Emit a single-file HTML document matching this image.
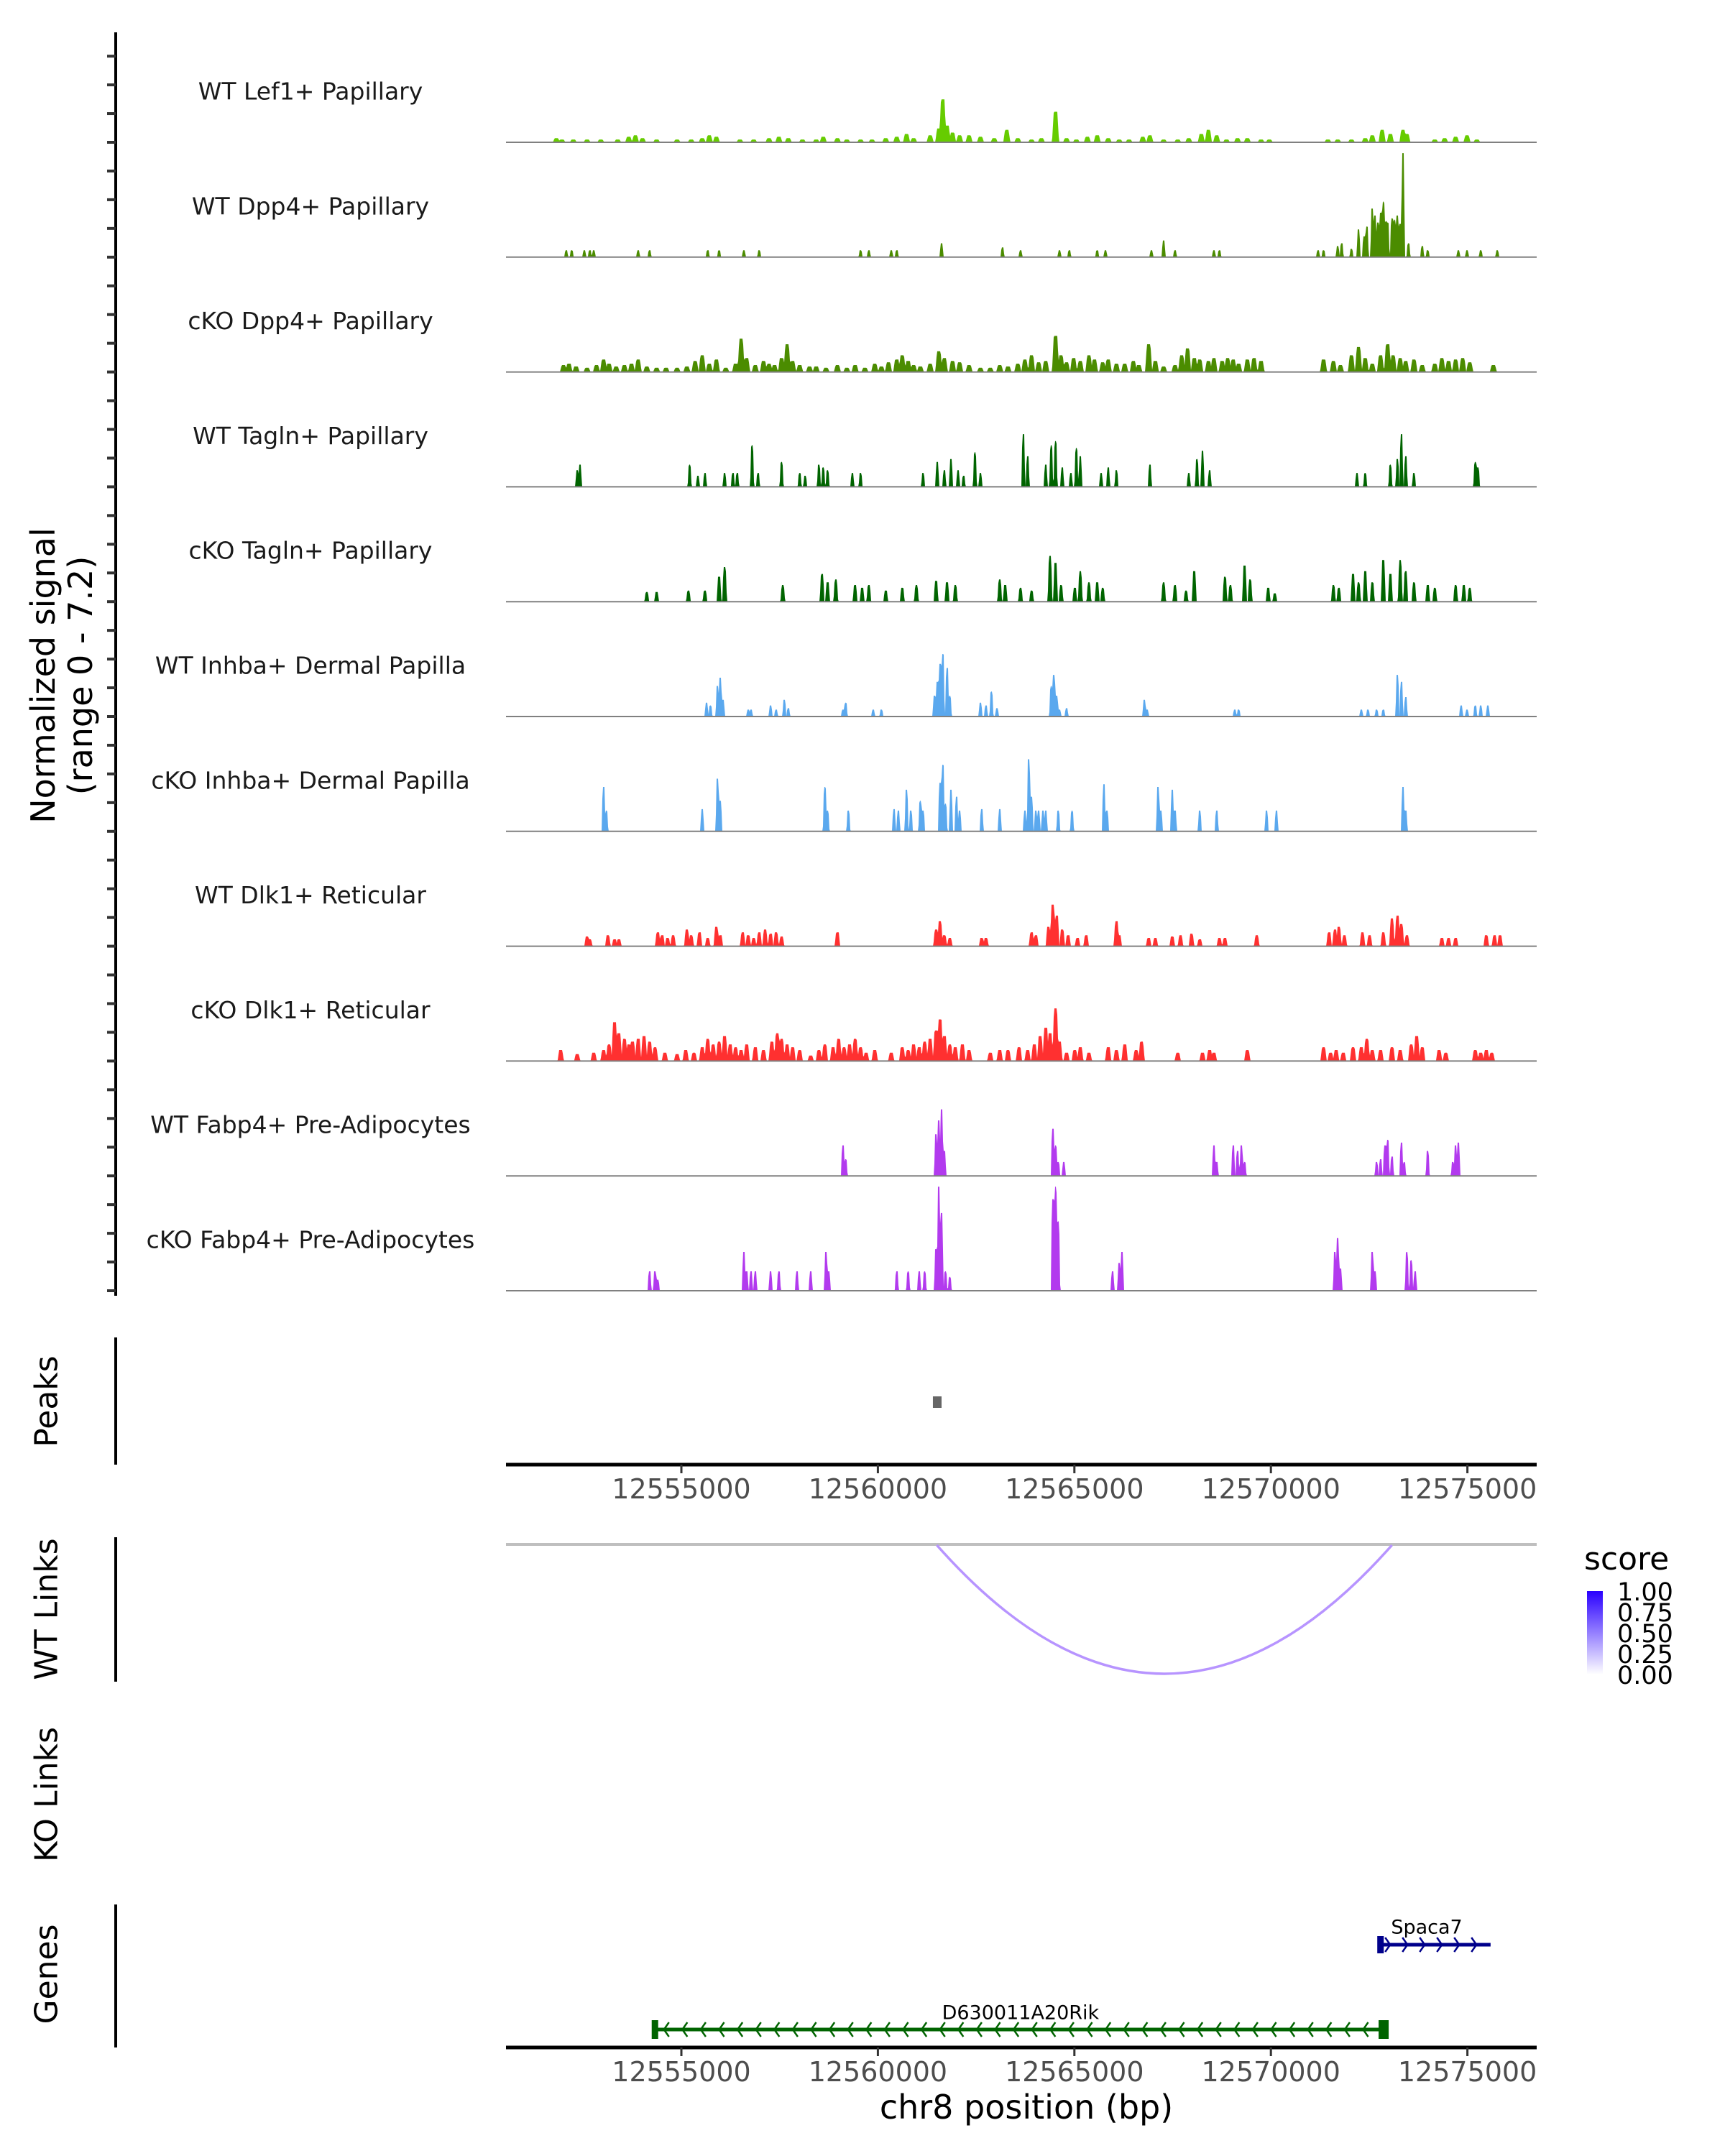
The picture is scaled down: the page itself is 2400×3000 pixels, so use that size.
<!DOCTYPE html>
<html><head><meta charset="utf-8"><style>
html,body{margin:0;padding:0;background:#fff;}
svg{display:block;font-family:"DejaVu Sans","Liberation Sans",sans-serif;}
</style></head><body>
<svg id="chart" width="2400" height="3000" viewBox="0 0 2400 3000" xmlns="http://www.w3.org/2000/svg">
<rect width="2400" height="3000" fill="#fff"/>
<g id="tracks"></g>
<g id="axes"></g>
</svg>
<script>
// region: positions in kb relative to chr8:12,550,000
const REGION_START = 12550000;
const trackNames = ["WT Lef1+ Papillary","WT Dpp4+ Papillary","cKO Dpp4+ Papillary","WT Tagln+ Papillary","cKO Tagln+ Papillary","WT Inhba+ Dermal Papilla","cKO Inhba+ Dermal Papilla","WT Dlk1+ Reticular","cKO Dlk1+ Reticular","WT Fabp4+ Pre-Adipocytes","cKO Fabp4+ Pre-Adipocytes"];
const trackColors = ["#66cc00","#4b8c00","#4b8c00","#006400","#006400","#5aa8ee","#5aa8ee","#ff3030","#ff3030","#b23aee","#b23aee"];
const tickValues = [12555000,12560000,12565000,12570000,12575000];
const tickLabels = ["12555000","12560000","12565000","12570000","12575000"];

const lef1Pos=[1.82,1.96,2.25,2.60,2.95,3.38,3.66,3.83,4.01,4.37,4.89,5.25,5.53,5.71,5.89,6.49,6.84,7.23,7.48,7.72,8.08,8.43,8.61,8.97,9.21,9.56,9.85,10.20,10.48,10.73,10.91,11.33,11.55,11.65,11.76,11.90,12.08,12.32,12.61,12.96,13.28,13.56,13.91,14.16,14.52,14.80,15.05,15.33,15.58,15.86,16.14,16.39,16.74,16.92,17.27,17.63,17.91,18.23,18.41,18.62,18.87,19.15,19.40,19.75,19.96,21.45,21.70,22.05,22.40,22.58,22.83,23.04,23.36,23.46,24.17,24.42,24.70,24.99,25.24];
const lef1Val=[.3,.2,.2,.2,.2,.2,.4,.5,.3,.2,.2,.2,.3,.5,.4,.2,.2,.3,.4,.3,.2,.2,.4,.3,.2,.2,.2,.3,.4,.6,.3,.5,1.0,3.1,1.2,.7,.5,.5,.4,.3,.9,.3,.2,.3,2.2,.3,.2,.4,.5,.3,.2,.2,.4,.5,.2,.2,.3,.6,.9,.5,.2,.3,.3,.2,.2,.2,.2,.2,.3,.5,.9,.6,.9,.6,.2,.3,.4,.5,.2];
const wtDpp4Pos=[2.07,2.21,2.53,2.67,2.77,3.90,4.19,5.67,5.96,6.59,6.98,9.56,9.77,10.34,10.48,11.62,13.17,13.63,14.62,14.87,15.58,15.79,16.96,17.27,17.56,18.55,18.69,21.20,21.34,21.70,21.80,22.05,22.23,22.37,22.44,22.58,22.65,22.72,22.79,22.86,22.93,22.97,23.08,23.15,23.22,23.29,23.36,23.50,23.85,23.99,24.77,24.99,25.34,25.76];
const wtDpp4Val=[.5,.5,.5,.5,.5,.5,.5,.5,.5,.5,.5,.5,.5,.5,.5,1.0,.7,.5,.5,.5,.5,.5,.5,1.2,.5,.5,.5,.5,.5,.8,1.0,.6,2.0,1.5,2.2,3.5,3.0,2.5,3.2,4.0,2.6,2.5,2.8,2.7,3.0,2.4,7.5,1.0,.8,.5,.5,.5,.5,.5];
const koDpp4Pos=[2.00,2.14,2.32,2.60,2.84,3.02,3.16,3.34,3.55,3.73,3.90,4.12,4.37,4.61,4.89,5.14,5.35,5.53,5.71,5.89,6.13,6.38,6.52,6.66,6.88,7.09,7.23,7.37,7.55,7.69,7.83,8.01,8.26,8.43,8.68,8.97,9.21,9.42,9.67,9.92,10.09,10.27,10.48,10.62,10.77,10.91,11.08,11.33,11.55,11.69,11.90,12.08,12.32,12.61,12.86,13.10,13.31,13.56,13.74,13.91,14.09,14.27,14.52,14.66,14.80,14.98,15.15,15.37,15.51,15.72,15.86,16.07,16.28,16.50,16.64,16.89,17.06,17.27,17.56,17.73,17.88,18.05,18.19,18.41,18.55,18.76,18.90,19.04,19.18,19.40,19.57,19.75,21.34,21.59,21.77,22.05,22.23,22.40,22.58,22.79,22.97,23.11,23.29,23.43,23.64,23.85,24.17,24.35,24.52,24.70,24.88,25.06,25.66];
const koDpp4Val=[.5,.6,.4,.3,.5,.9,.6,.4,.5,.6,.9,.4,.3,.3,.3,.4,.8,1.2,.6,.9,.3,.6,2.4,1.0,.5,.8,.6,.5,1.0,2.0,.8,.5,.4,.4,.3,.5,.3,.5,.3,.6,.4,.7,.9,1.2,.8,.5,.4,.6,1.5,1.0,.8,.7,.5,.3,.3,.5,.4,.6,.9,1.2,.7,.8,2.6,1.2,.7,1.0,.8,1.2,.9,.7,.9,.6,.6,.8,.5,2.0,.8,.4,.5,1.2,1.7,1.0,.9,.8,1.0,.8,1.0,.9,.6,.9,1.0,.8,.9,.8,.5,1.2,1.8,1.0,.6,1.2,2.0,1.2,1.0,.8,.9,.5,.6,1.0,.8,.9,1.0,.7,.5];
const wtTaglnPos=[2.35,2.42,5.21,5.42,5.60,6.10,6.31,6.42,6.80,6.95,7.55,8.01,8.15,8.50,8.61,8.72,9.35,9.56,11.15,11.51,11.69,11.86,12.04,12.18,12.47,12.61,13.70,13.81,14.27,14.41,14.52,14.69,14.91,15.05,15.15,15.68,15.86,16.07,16.92,17.91,18.12,18.26,18.44,22.19,22.40,23.04,23.22,23.32,23.43,23.64,25.20,25.27];
const wtTaglnVal=[1.2,1.6,1.6,.8,1.0,1.0,1.0,1.0,3.0,1.0,1.8,1.0,.8,1.6,1.4,1.2,1.0,1.0,1.0,1.8,1.2,2.0,1.2,.8,2.5,1.0,3.8,2.2,1.6,3.0,3.3,1.4,1.0,2.8,2.2,1.0,1.4,1.2,1.6,1.0,2.0,2.6,1.2,1.0,1.0,1.6,2.0,3.8,2.2,1.0,1.8,1.4];
const koTaglnPos=[4.12,4.37,5.18,5.60,5.96,6.10,7.58,8.58,8.72,8.93,9.42,9.60,9.77,10.20,10.62,10.98,11.48,11.76,11.97,13.10,13.24,13.63,13.91,14.38,14.52,14.66,15.01,15.15,15.37,15.58,15.72,17.27,17.56,17.84,18.05,18.83,18.97,19.33,19.47,19.93,20.10,21.59,21.73,22.09,22.23,22.40,22.58,22.86,23.04,23.29,23.43,23.64,23.99,24.17,24.70,24.91,25.06];
const koTaglnVal=[.7,.7,.8,.8,1.8,2.5,1.2,2.0,1.4,1.6,1.2,1.0,1.2,.8,1.0,1.2,1.5,1.4,1.2,1.6,1.2,1.0,.8,3.3,2.8,1.2,1.0,2.2,1.4,1.4,1.0,1.4,1.2,.8,2.2,1.8,1.2,2.6,1.6,1.0,.6,1.2,1.0,2.0,1.4,2.2,1.4,3.0,2.0,3.0,2.2,1.4,1.2,1.0,1.2,1.2,1.0];
const wtInhbaPos=[5.64,5.74,5.92,5.99,6.06,6.70,6.77,7.27,7.41,7.62,7.72,9.11,9.18,9.88,10.09,11.44,11.51,11.58,11.65,11.76,11.83,12.61,12.75,12.89,13.03,14.41,14.48,14.55,14.62,14.80,16.78,16.85,19.08,19.18,22.30,22.47,22.69,22.86,23.22,23.32,23.43,24.84,24.99,25.20,25.34,25.52];
const wtInhbaVal=[1.0,.8,2.2,2.8,1.2,.5,.5,.8,.5,1.2,.6,.5,1.0,.5,.5,1.5,2.5,3.8,4.5,3.5,1.5,1.0,.8,1.8,.6,2.2,3.0,1.5,.5,.6,1.2,.5,.5,.5,.5,.5,.5,.5,3.0,2.5,1.4,.8,.5,.8,.8,.8];
const koInhbaPos=[3.02,3.09,5.53,5.92,5.99,8.65,8.72,9.25,10.41,10.52,10.73,10.84,11.08,11.15,11.58,11.65,11.72,11.86,12.00,12.08,12.64,13.10,13.74,13.84,13.91,14.02,14.09,14.20,14.27,14.59,14.94,15.75,15.83,17.13,17.20,17.49,17.56,18.19,18.62,19.89,20.14,23.36,23.43];
const koInhbaVal=[3.2,1.5,1.6,3.8,2.2,3.2,1.5,1.5,1.6,1.5,3.0,1.5,2.2,1.5,3.5,4.8,2.0,3.0,2.5,1.5,1.6,1.6,1.5,5.2,2.5,1.5,1.5,1.5,1.5,1.5,1.5,3.4,1.5,3.2,1.5,3.0,1.5,1.5,1.5,1.5,1.5,3.2,1.5];
const wtDlk1Pos=[2.60,2.67,3.13,3.30,3.41,4.40,4.51,4.65,4.79,5.14,5.25,5.46,5.67,5.89,5.99,6.56,6.70,6.84,6.98,7.13,7.27,7.41,7.55,8.97,11.48,11.58,11.69,11.83,12.64,12.75,13.91,14.02,14.34,14.45,14.55,14.69,14.84,15.08,15.30,16.07,16.14,16.89,17.06,17.49,17.70,17.98,18.19,18.69,18.83,19.64,21.48,21.63,21.73,21.87,22.33,22.51,22.86,23.08,23.22,23.32,23.46,24.35,24.52,24.70,25.48,25.69,25.83];
const wtDlk1Val=[.7,.5,.8,.5,.5,1.0,.8,.6,.8,1.2,.8,1.0,.6,1.4,.8,1.0,.8,.6,1.0,1.2,.9,1.0,.7,1.0,1.2,1.8,.8,.6,.6,.6,1.0,.8,1.4,3.0,2.2,1.2,.8,.6,.8,1.8,.8,.6,.6,.7,.8,.9,.5,.6,.6,.8,1.0,1.2,1.4,.8,1.0,.8,1.0,2.0,2.2,1.6,.8,.6,.6,.6,.8,.8,.8];
const koDlk1Pos=[1.93,2.35,2.77,3.02,3.16,3.30,3.41,3.55,3.66,3.76,3.90,4.05,4.19,4.33,4.58,4.89,5.11,5.32,5.53,5.67,5.81,5.96,6.10,6.24,6.38,6.52,6.66,6.88,7.09,7.30,7.44,7.55,7.69,7.83,8.01,8.29,8.50,8.65,8.86,9.00,9.14,9.28,9.42,9.56,9.70,9.92,10.34,10.62,10.77,10.91,11.05,11.19,11.33,11.48,11.58,11.69,11.83,11.97,12.15,12.32,12.86,13.10,13.31,13.59,13.81,13.98,14.13,14.27,14.38,14.52,14.62,14.80,15.01,15.15,15.37,15.86,16.07,16.28,16.57,16.71,17.63,18.26,18.44,18.55,19.40,21.34,21.52,21.66,21.84,22.09,22.30,22.44,22.58,22.79,23.08,23.29,23.57,23.71,23.85,24.28,24.45,25.20,25.34,25.48,25.62];
const koDlk1Val=[.8,.5,.6,.8,1.2,2.8,2.0,1.6,1.2,1.4,1.6,1.8,1.4,1.0,.6,.5,.8,.6,1.0,1.6,1.2,1.4,1.8,1.2,1.0,.8,1.2,1.0,.8,1.4,2.0,1.6,1.2,1.0,.8,.4,.8,1.2,1.0,1.6,1.0,1.2,1.6,1.0,.6,.8,.6,1.0,.8,1.2,1.0,1.4,1.6,2.2,3.0,1.8,1.2,1.0,1.2,.8,.6,.8,.8,1.0,.8,1.2,1.8,2.4,2.0,3.8,1.4,.6,.8,1.0,.6,1.0,.8,1.2,.8,1.4,.6,.6,.8,.6,.8,1.0,.6,.8,.6,1.0,1.0,1.6,.8,.8,1.0,.8,1.2,1.8,1.0,.8,.6,.8,.6,.8,.6];
const wtFabp4Pos=[9.11,9.18,11.48,11.55,11.62,11.69,14.45,14.52,14.59,14.73,18.55,18.62,19.04,19.15,19.25,19.33,22.69,22.79,22.90,22.97,23.08,23.32,23.39,23.99,24.63,24.70,24.77];
const wtFabp4Val=[2.2,1.2,3.0,4.0,4.8,1.8,3.4,2.2,1.0,1.0,2.2,1.0,2.2,1.8,2.2,1.0,1.0,1.2,2.2,2.6,1.4,2.4,1.0,1.8,1.0,2.2,2.4];
const koFabp4Pos=[4.19,4.33,4.40,6.59,6.66,6.77,6.88,7.27,7.48,7.94,8.29,8.68,8.75,10.48,10.77,11.05,11.19,11.48,11.55,11.62,11.72,11.83,14.45,14.52,14.59,15.97,16.14,16.21,21.63,21.70,21.77,22.58,22.65,23.46,23.57,23.67];
const koFabp4Val=[1.4,1.4,.8,2.8,1.4,1.4,1.4,1.4,1.4,1.4,1.4,2.8,1.4,1.4,1.4,1.4,1.4,3.0,7.5,5.6,1.4,1.0,6.6,7.5,5.0,1.4,2.0,2.8,2.8,3.8,1.6,2.8,1.4,2.8,2.2,1.4];

const trackPos=[lef1Pos,wtDpp4Pos,koDpp4Pos,wtTaglnPos,koTaglnPos,wtInhbaPos,koInhbaPos,wtDlk1Pos,koDlk1Pos,wtFabp4Pos,koFabp4Pos];
const trackVal=[lef1Val,wtDpp4Val,koDpp4Val,wtTaglnVal,koTaglnVal,wtInhbaVal,koInhbaVal,wtDlk1Val,koDlk1Val,wtFabp4Val,koFabp4Val];
const trackWidth=[0.09,0.05,0.09,0.05,0.06,0.05,0.05,0.07,0.08,0.05,0.05];

const peakStarts=[11.40]; const peakEnds=[11.62];
const linkStarts=[11.50]; const linkEnds=[23.08]; const linkScores=[0.35];
const geneNames=["D630011A20Rik","Spaca7"];
const geneStarts=[4.30,22.78]; const geneEnds=[22.96,25.59]; const geneStrand=[-1,1];

const NS="http://www.w3.org/2000/svg";
const PX_LEFT=704, PX_RIGHT=2138;
function xs(kb){ return 948 + (kb - 5.0) * 54.68; }
function xsBp(bp){ return xs((bp - REGION_START)/1000); }
function kbAt(px){ return 5.0 + (px - 948)/54.68; }
const UNIT=19.3, BASE0=198, STEP=159.8;
function el(tag, attrs, parent){ const e=document.createElementNS(NS,tag); for(const k in attrs) e.setAttribute(k,attrs[k]); parent.appendChild(e); return e; }

const gT=document.getElementById('tracks');
const gA=document.getElementById('axes');

for(let i=0;i<trackNames.length;i++){
  const base=BASE0+i*STEP;
  let d="M"+PX_LEFT+","+base;
  for(let px=PX_LEFT; px<=PX_RIGHT; px+=1){
    const kb=kbAt(px); let v=0;
    const P=trackPos[i], V=trackVal[i], w=trackWidth[i];
    for(let j=0;j<P.length;j++){
      const dd=Math.abs(kb-P[j]);
      if(dd<w){ const f=dd<w*0.5?1:(1-(dd-w*0.5)/(w*0.5)); v=Math.max(v,V[j]*f); }
    }
    d+=" L"+px+","+(base - v*UNIT).toFixed(1);
  }
  d+=" L"+PX_RIGHT+","+base+" Z";
  const p=el('path',{d:d,fill:trackColors[i]},gT);
  
  
  const bl=el('line',{x1:PX_LEFT,x2:PX_RIGHT,y1:base,y2:base,stroke:'#808080','stroke-width':2},gT);
  
  
  const t=el('text',{x:432,y:base-71,'font-size':33,fill:'#1a1a1a','text-anchor':'middle','dominant-baseline':'central'},gT);
  t.textContent=trackNames[i];
  
  
}

const ax=el('line',{x1:161,x2:161,y1:45,y2:1803,stroke:'#000','stroke-width':4},gA);


for(let y=BASE0+10*STEP; y>=60; y-=STEP/4){
  const tk=el('line',{x1:149,x2:161,y1:y,y2:y,stroke:'#333','stroke-width':4},gA);
  
  
}
function vlabel(lines,cx,cy,name,size,gap){
  const t=el('text',{transform:'translate('+cx+','+cy+') rotate(-90)','font-size':size,'text-anchor':'middle',fill:'#000'},gA);
  lines.forEach((s,k)=>{ const ts=el('tspan',{x:0,y:(k-(lines.length-1)/2)*gap+size*0.35},t); ts.textContent=s; });
  
  
}
vlabel(["Normalized signal","(range 0 - 7.2)"],86,940,'y-axis-title',46,52);

const pl=el('line',{x1:161,x2:161,y1:1861,y2:2038,stroke:'#000','stroke-width':4},gA);


vlabel(["Peaks"],64,1950,'peaks-title',44,0);
for(let j=0;j<peakStarts.length;j++){
  const r=el('rect',{x:xs(peakStarts[j]),y:1943,width:xs(peakEnds[j])-xs(peakStarts[j]),height:16,fill:'#666'},gA);
  
  
}
function xAxis(y,name){
  const a=el('line',{x1:PX_LEFT,x2:PX_RIGHT,y1:y,y2:y,stroke:'#000','stroke-width':5},gA);
  
  
  for(let j=0;j<tickValues.length;j++){
    const x=xsBp(tickValues[j]);
    const tk=el('line',{x1:x,x2:x,y1:y,y2:y+12,stroke:'#333','stroke-width':3},gA);
    
    
    const t=el('text',{x:x,y:y+47,'font-size':38,fill:'#4d4d4d','text-anchor':'middle'},gA);
    t.textContent=tickLabels[j];
    
    
  }
}
xAxis(2038,'peaks-x-axis');

const wl=el('line',{x1:161,x2:161,y1:2139,y2:2340,stroke:'#000','stroke-width':4},gA);


vlabel(["WT Links"],64,2239,'wt-links-title',44,0);
const lb=el('line',{x1:PX_LEFT,x2:PX_RIGHT,y1:2149,y2:2149,stroke:'#bfbfbf','stroke-width':4},gA);


for(let j=0;j<linkStarts.length;j++){
  const x1=xs(linkStarts[j]), x2=xs(linkEnds[j]), y0=2150, yb=2329;
  const yc=y0+(yb-y0)*2;
  const a=el('path',{d:'M'+x1+','+y0+' Q'+((x1+x2)/2)+','+yc+' '+x2+','+y0,fill:'none',stroke:'#b794ff','stroke-width':3.5},gA);
  
  
}
const lt=el('text',{x:2204,y:2184,'font-size':44,fill:'#000'},gA); lt.textContent='score';


const defs=el('defs',{},gA);
const lg=el('linearGradient',{id:'sg',x1:0,y1:1,x2:0,y2:0},defs);
el('stop',{offset:'0','stop-color':'#ffffff'},lg);
el('stop',{offset:'1','stop-color':'#2a00ff'},lg);
const cb=el('rect',{x:2208,y:2214,width:22,height:116,fill:'url(#sg)'},gA);


const legVals=["1.00","0.75","0.50","0.25","0.00"];
legVals.forEach((s,k)=>{
  const t=el('text',{x:2250,y:2216+k*29,'font-size':35,fill:'#000','dominant-baseline':'central'},gA);
  t.textContent=s;
  
  
});

vlabel(["KO Links"],64,2497,'ko-links-title',44,0);

const gl=el('line',{x1:161,x2:161,y1:2650,y2:2849,stroke:'#000','stroke-width':4},gA);


vlabel(["Genes"],64,2747,'genes-title',44,0);
const geneY=[2824,2706], geneCol=["#006400","#00008b"], labY=[2801,2682];
for(let g=0;g<geneNames.length;g++){
  const x1=xs(geneStarts[g]), x2=xs(geneEnds[g]), y=geneY[g], c=geneCol[g];
  const grp=el('g',{},gA);
  
  
  el('line',{x1:x1,x2:x2,y1:y,y2:y,stroke:c,'stroke-width':5},grp);
  if(geneStrand[g]<0){
    el('rect',{x:x1-3,y:y-13,width:9,height:26,fill:c},grp);
    el('rect',{x:x2-12,y:y-13,width:14,height:26,fill:c},grp);
  } else {
    el('rect',{x:x1-4,y:y-12,width:9,height:24,fill:c},grp);
  }
  const step=geneStrand[g]<0?25.6:24;
  for(let x=x1+14; x<x2-4; x+=step){
    const dx=geneStrand[g]*7;
    el('path',{d:'M'+(x-dx)+','+(y-10)+' L'+x+','+y+' L'+(x-dx)+','+(y+10),fill:'none',stroke:c,'stroke-width':2.5},grp);
  }
  const t=el('text',{x:(x1+x2)/2-(geneStrand[g]>0?12:0),y:labY[g],'font-size':27,fill:'#000','text-anchor':'middle','dominant-baseline':'central'},gA);
  t.textContent=geneNames[g];
  
  
}
xAxis(2849,'genes-x-axis');
const xt=el('text',{x:1428,y:2948,'font-size':46,fill:'#000','text-anchor':'middle'},gA);
xt.textContent='chr8 position (bp)';


</script>
</body></html>
